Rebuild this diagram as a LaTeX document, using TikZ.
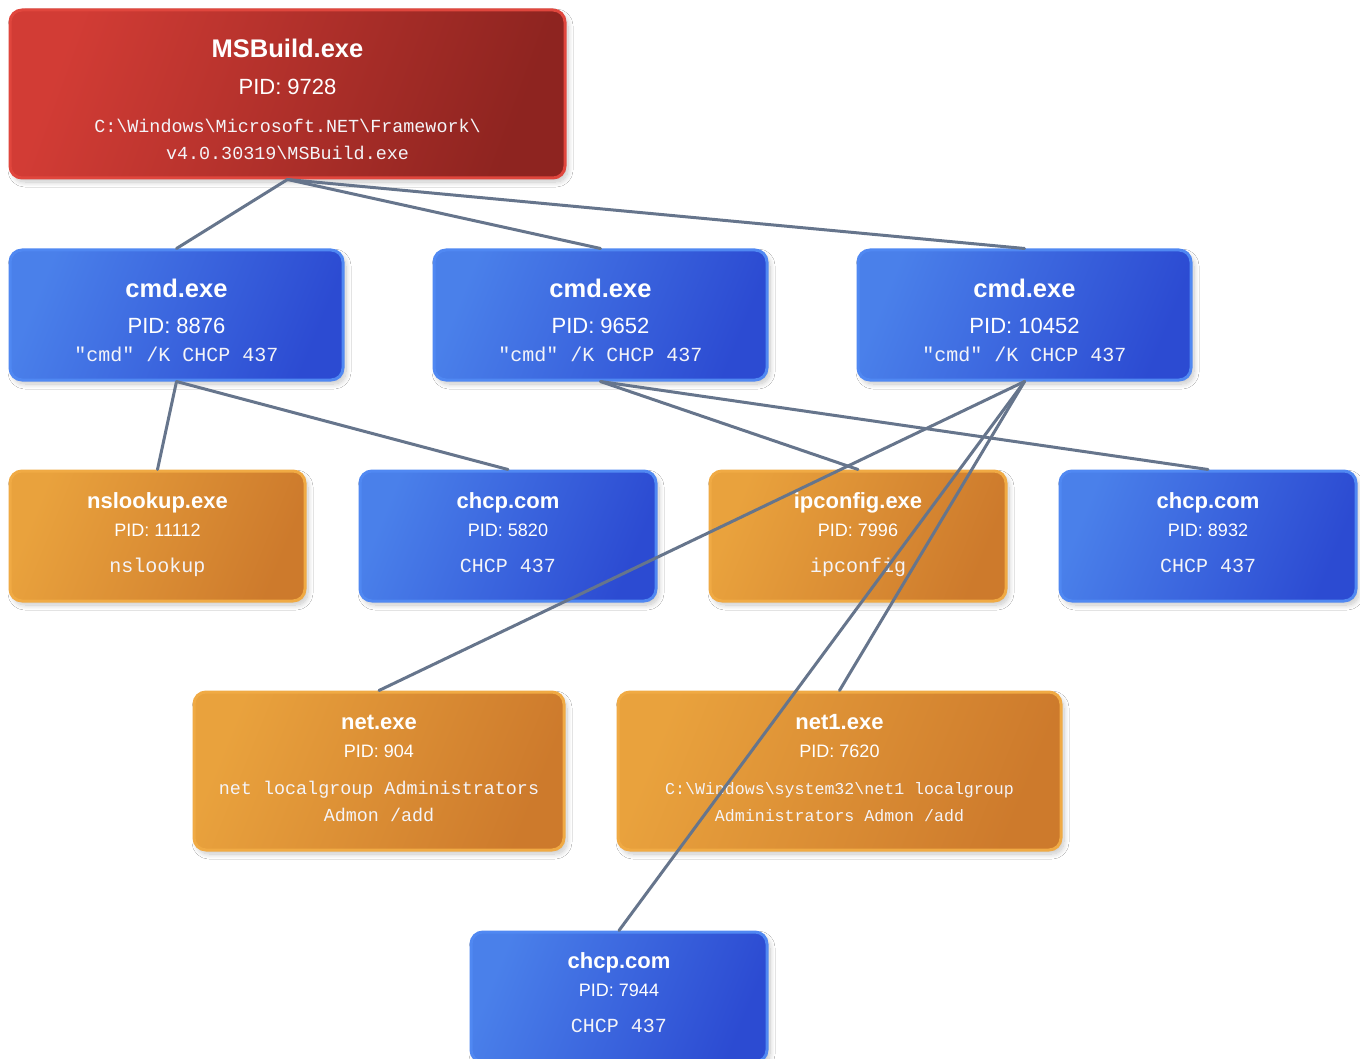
\documentclass[tikz,border=0pt]{standalone}
\usepackage{fontspec}
\setmainfont{Liberation Sans}
\setmonofont{Liberation Mono}
\usetikzlibrary{shadows.blur}

\definecolor{redA}{HTML}{D23C35}
\definecolor{redB}{HTML}{8E2420}
\definecolor{redE}{HTML}{E0463D}
\definecolor{bluA}{HTML}{4A80EA}
\definecolor{bluB}{HTML}{2C4BD2}
\definecolor{bluE}{HTML}{5088F2}
\definecolor{orgA}{HTML}{E9A23D}
\definecolor{orgB}{HTML}{CD7A2C}
\definecolor{orgE}{HTML}{F0AA44}
\definecolor{wire}{HTML}{66758C}
\definecolor{soft}{HTML}{F4F4F8}

\newcommand\bsl{\textbackslash}

\tikzset{
  proc/.style={rounded corners=12pt, line width=3pt, inner sep=0pt,
    blur shadow={shadow xshift=3pt, shadow yshift=-4pt,
      shadow blur radius=5pt, shadow blur steps=12, shadow opacity=22}},
  redbox/.style={proc, draw=redE, top color=redA, bottom color=redB, shading angle=70},
  bluebox/.style={proc, draw=bluE, top color=bluA, bottom color=bluB, shading angle=68},
  orangebox/.style={proc, draw=orgE, top color=orgA, bottom color=orgB, shading angle=68},
  txt/.style={anchor=base, text=white, inner sep=0pt},
  bigttl/.style={txt, font=\bfseries\fontsize{25.5}{30}\selectfont},
  bigpid/.style={txt, font=\fontsize{22}{26}\selectfont},
  ttl/.style={txt, font=\bfseries\fontsize{22}{26}\selectfont},
  pid/.style={txt, font=\fontsize{18}{22}\selectfont},
  cmdA/.style={txt, text=soft, font=\ttfamily\fontsize{20}{24}\selectfont},
  cmdB/.style={txt, text=soft, font=\ttfamily\fontsize{18.4}{22}\selectfont},
  cmdC/.style={txt, text=soft, font=\ttfamily\fontsize{16.6}{20}\selectfont},
  link/.style={draw=wire, line width=3pt, line cap=round},
}

\begin{document}
\begin{tikzpicture}[x=1pt, y=-1pt]
\useasboundingbox (0,0) rectangle (1360,1059);
\fill[white] (0,0) rectangle (1360,1059);

% root process
\node[redbox, minimum width=555pt, minimum height=168pt] (ms) at (287.5,94) {};
\node[bigttl] (ms-t) at (287.5,58) {MSBuild.exe};
\node[bigpid] (ms-p) at (287.5,95) {PID: 9728};
\node[cmdB] (ms-c1) at (287.5,132.5) {C:\bsl Windows\bsl Microsoft.NET\bsl Framework\bsl};
\node[cmdB] (ms-c2) at (287.5,159.5) {v4.0.30319\bsl MSBuild.exe};

% cmd.exe children
\node[bluebox, minimum width=333pt, minimum height=130pt] (c1) at (176.5,315) {};
\node[bigttl] (c1-t) at (176.5,297.5) {cmd.exe};
\node[bigpid] (c1-p) at (176.5,334) {PID: 8876};
\node[cmdA] (c1-c) at (176.5,361) {"cmd" /K CHCP 437};

\node[bluebox, minimum width=333pt, minimum height=130pt] (c2) at (600.5,315) {};
\node[bigttl] (c2-t) at (600.5,297.5) {cmd.exe};
\node[bigpid] (c2-p) at (600.5,334) {PID: 9652};
\node[cmdA] (c2-c) at (600.5,361) {"cmd" /K CHCP 437};

\node[bluebox, minimum width=333pt, minimum height=130pt] (c3) at (1024.5,315) {};
\node[bigttl] (c3-t) at (1024.5,297.5) {cmd.exe};
\node[bigpid] (c3-p) at (1024.5,334) {PID: 10452};
\node[cmdA] (c3-c) at (1024.5,361) {"cmd" /K CHCP 437};

% third row
\node[orangebox, minimum width=295pt, minimum height=130pt] (ns) at (157.5,536) {};
\node[ttl] (ns-t) at (157.5,508) {nslookup.exe};
\node[pid] (ns-p) at (157.5,536.5) {PID: 11112};
\node[cmdA] (ns-c) at (157.5,572.5) {nslookup};

\node[bluebox, minimum width=296pt, minimum height=130pt] (h1) at (508,536) {};
\node[ttl] (h1-t) at (508,508) {chcp.com};
\node[pid] (h1-p) at (508,536.5) {PID: 5820};
\node[cmdA] (h1-c) at (508,572.5) {CHCP 437};

\node[orangebox, minimum width=296pt, minimum height=130pt] (ip) at (858,536) {};
\node[ttl] (ip-t) at (858,508) {ipconfig.exe};
\node[pid] (ip-p) at (858,536.5) {PID: 7996};
\node[cmdA] (ip-c) at (858,572.5) {ipconfig};

\node[bluebox, minimum width=296pt, minimum height=130pt] (h2) at (1208,536) {};
\node[ttl] (h2-t) at (1208,508) {chcp.com};
\node[pid] (h2-p) at (1208,536.5) {PID: 8932};
\node[cmdA] (h2-c) at (1208,572.5) {CHCP 437};

% fourth row
\node[orangebox, minimum width=370pt, minimum height=158pt] (net) at (379,771) {};
\node[ttl] (net-t) at (379,729.5) {net.exe};
\node[pid] (net-p) at (379,757.5) {PID: 904};
\node[cmdB] (net-c1) at (379,794) {net localgroup Administrators};
\node[cmdB] (net-c2) at (379,821.5) {Admon /add};

\node[orangebox, minimum width=443pt, minimum height=158pt] (net1) at (839.5,771) {};
\node[ttl] (net1-t) at (839.5,729.5) {net1.exe};
\node[pid] (net1-p) at (839.5,757.5) {PID: 7620};
\node[cmdC] (net1-c1) at (839.5,794) {C:\bsl Windows\bsl system32\bsl net1 localgroup};
\node[cmdC] (net1-c2) at (839.5,821.5) {Administrators Admon /add};

% bottom row
\node[bluebox, minimum width=296pt, minimum height=130pt] (h3) at (619,997) {};
\node[ttl] (h3-t) at (619,968) {chcp.com};
\node[pid] (h3-p) at (619,996.5) {PID: 7944};
\node[cmdA] (h3-c) at (619,1032.5) {CHCP 437};

% parent-child links
\draw[link] (ms.south) -- (c1.north);
\draw[link] (ms.south) -- (c2.north);
\draw[link] (ms.south) -- (c3.north);
\draw[link] (c1.south) -- (ns.north);
\draw[link] (c1.south) -- (h1.north);
\draw[link] (c2.south) -- (ip.north);
\draw[link] (c2.south) -- (h2.north);
\draw[link] (c3.south) -- (net.north);
\draw[link] (c3.south) -- (net1.north);
\draw[link] (c3.south) -- (h3.north);
\end{tikzpicture}
\end{document}
